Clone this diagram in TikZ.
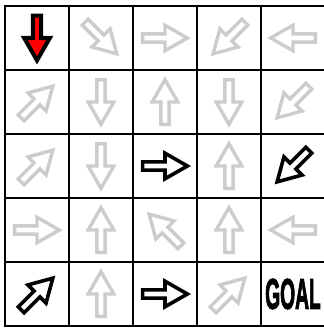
\documentclass[tikz,border=0pt]{standalone}
\usepackage{fontspec}
\newfontfamily\goalfont[FakeBold=3]{Liberation Sans}
\usetikzlibrary{calc}

\begin{document}
\begin{tikzpicture}[
    x=1cm, y=1cm,
    cellgrid/.style={line width=1pt, black},
    faded/.style={draw=black!20, fill=white, line width=1.5pt},
    chosen/.style={draw=black, fill=white, line width=1.6pt},
    start/.style={draw=black, fill=red, line width=1.8pt},
    pics/blockarrow/.style={code={
      \path[pic actions] (-0.35,-0.065) -- (0,-0.065) -- (0,-0.2) -- (0.35,0)
        -- (0,0.2) -- (0,0.065) -- (-0.35,0.065) -- cycle;}}
  ]
    \useasboundingbox (-0.078,-0.047) rectangle ++(5.0625,5.1406);
    \draw[cellgrid] (0,0) grid (5,5);
    \draw[cellgrid] (0,0) rectangle (5,5);
    % row/column/angle/style, row 0 at the top
    \foreach \r/\c/\ang/\sty in {
        0/0/270/start, 0/1/315/faded, 0/2/0/faded, 0/3/225/faded, 0/4/180/faded,
        1/0/45/faded, 1/1/270/faded, 1/2/90/faded, 1/3/270/faded, 1/4/225/faded,
        2/0/45/faded, 2/1/270/faded, 2/2/0/chosen, 2/3/90/faded, 2/4/225/chosen,
        3/0/0/faded, 3/1/90/faded, 3/2/135/faded, 3/3/90/faded, 3/4/180/faded,
        4/0/45/chosen, 4/1/90/faded, 4/2/0/chosen, 4/3/45/faded}
      \pic[\sty, rotate=\ang] (a-\r-\c) at (\c+0.5,4.5-\r) {blockarrow};
    \node[font=\goalfont\bfseries\fontsize{19}{20}\selectfont, inner sep=0pt]
      (goal) at (4.5,0.5) {\scalebox{0.45}[1]{GOAL}};
\end{tikzpicture}
\end{document}
